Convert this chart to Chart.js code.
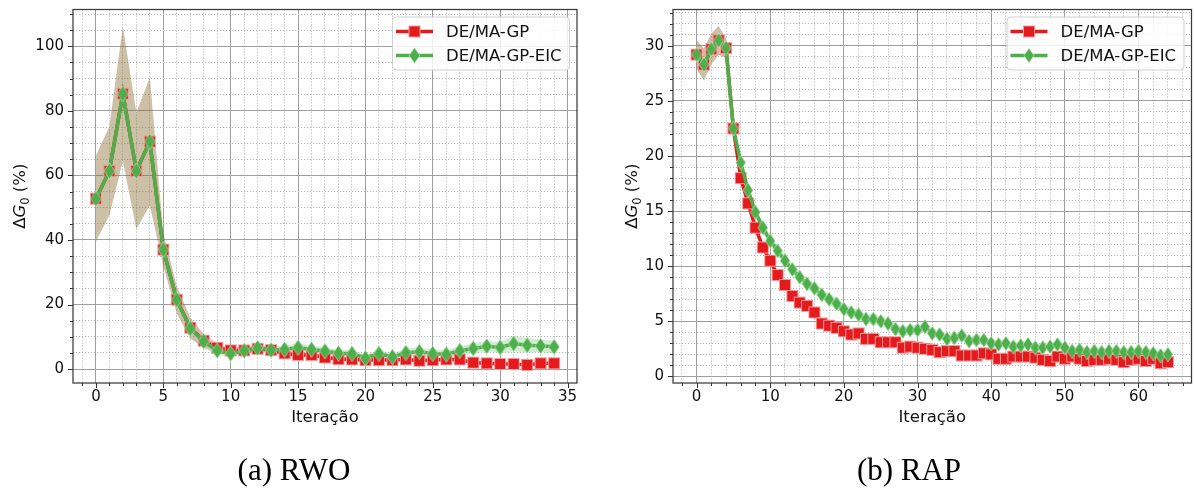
<!DOCTYPE html>
<html><head><meta charset="utf-8">
<script src="https://cdn.jsdelivr.net/npm/chart.js@4.4.0/dist/chart.umd.min.js"></script>
<style>
html,body{margin:0;padding:0;background:#fff;}
#wrap{position:relative;width:1195px;height:493px;overflow:hidden;background:#fff;}
canvas{position:absolute;top:0;}
#c1{left:0;}
#c2{left:600px;}
.cap{position:absolute;top:454px;font-family:"Liberation Serif","DejaVu Serif",serif;font-size:31px;color:#000;transform:translateX(-50%);white-space:nowrap;line-height:1;}
</style></head>
<body><div id="wrap">
<canvas id="c1" width="600" height="493"></canvas>
<canvas id="c2" width="601" height="493"></canvas>
<div class="cap" id="cap1" style="left:294px"></div>
<div class="cap" id="cap2" style="left:909px"></div>
</div>
<script>
// ---------------- DATA ----------------
const seriesNames = ['DE/MA-GP', 'DE/MA-GP-EIC'];
const xTitle = 'Iteração';
const captions = ['(a) RWO', '(b) RAP'];

const rwoIter = [0,1,2,3,4,5,6,7,8,9,10,11,12,13,14,15,16,17,18,19,20,21,22,23,24,25,26,27,28,29,30,31,32,33,34];
const rwoGP = [52.8,61.4,85.3,61.4,70.5,37.0,21.5,12.8,8.8,6.6,
  5.8,5.8,6.3,5.9,4.9,4.4,4.4,3.6,3.1,3.0,
  2.8,2.8,2.8,3.0,2.6,2.8,3.0,3.0,2.0,1.8,
  1.6,1.6,1.3,1.8,1.8];
const rwoGPStd = [13.3,13.7,20.8,18.0,19.8,5.0,4.2,3.2,2.1,1.4,
  1.1,1.0,1.0,0.9,0.8,0.7,0.7,0.6,0.6,0.6,
  0.6,0.5,0.5,0.5,0.5,0.5,0.5,0.5,0.5,0.5,
  0.5,0.5,0.5,0.5,0.5];
const rwoEIC = [52.8,61.4,85.3,61.4,70.5,37.0,21.5,12.6,8.6,5.7,
  4.8,5.7,6.6,5.9,6.1,6.7,6.1,5.6,4.9,4.8,
  3.4,4.8,3.8,5.1,5.4,4.8,4.6,5.7,6.4,7.1,
  6.7,7.9,7.4,7.2,6.9];
const rwoEICStd = [13.3,13.7,20.8,18.0,19.8,5.0,4.2,3.2,2.1,1.2,
  1.1,1.1,1.2,1.1,1.2,1.3,1.2,1.2,1.2,1.2,
  1.0,1.2,1.1,1.2,1.3,1.3,1.3,1.4,1.6,1.6,
  1.7,2.4,2.2,2.0,1.9];

const rapIter = [0,1,2,3,4,5,6,7,8,9,10,11,12,13,14,15,16,17,18,19,20,21,22,23,24,25,26,27,28,29,30,31,32,
  33,34,35,36,37,38,39,40,41,42,43,44,45,46,47,48,49,50,51,52,53,54,55,56,57,58,59,60,61,62,63,64];
const rapGP = [29.2,28.3,29.7,30.5,29.8,22.5,18.0,15.7,13.5,11.7,
  10.5,9.2,8.3,7.3,6.7,6.4,5.8,4.8,4.6,4.4,
  4.1,3.8,3.9,3.4,3.4,3.1,3.1,3.1,2.6,2.7,
  2.6,2.5,2.4,2.2,2.3,2.3,1.9,1.9,1.9,2.1,
  2.0,1.6,1.6,1.8,1.8,1.8,1.7,1.5,1.4,1.8,
  1.6,1.8,1.6,1.4,1.5,1.5,1.6,1.5,1.3,1.5,
  1.6,1.4,1.6,1.2,1.3];
const rapGPStd = [1.3,1.45,1.4,1.3,0.9,0.4,0.35,0.35,0.35,0.35,
  0.35,0.35,0.35,0.35,0.35,0.35,0.35,0.35,0.35,0.35,
  0.25,0.25,0.25,0.25,0.25,0.25,0.25,0.25,0.25,0.25,
  0.25,0.25,0.25,0.25,0.25,0.25,0.25,0.25,0.25,0.25,
  0.25,0.25,0.25,0.25,0.25,0.25,0.25,0.25,0.25,0.25,
  0.25,0.25,0.25,0.25,0.25,0.25,0.25,0.25,0.25,0.25,
  0.25,0.25,0.25,0.25,0.25];
const rapEIC = [29.2,28.3,29.7,30.5,29.8,22.5,19.4,16.9,14.9,13.5,
  12.3,11.4,10.5,9.7,9.0,8.4,8.0,7.4,7.0,6.6,
  6.1,5.8,5.6,5.2,5.2,5.0,4.8,4.3,4.1,4.2,
  4.2,4.5,3.9,3.8,3.4,3.5,3.7,3.2,3.3,3.3,
  3.0,2.9,3.0,2.7,2.8,2.9,2.6,2.6,2.7,2.9,
  2.6,2.3,2.4,2.2,2.3,2.2,2.3,2.3,2.2,2.2,
  2.3,2.2,2.1,1.9,2.0];
const rapEICStd = [1.3,1.45,1.4,1.3,0.9,0.4,0.5,0.5,0.5,0.5,
  0.5,0.5,0.5,0.5,0.5,0.5,0.5,0.5,0.5,0.5,
  0.5,0.45,0.45,0.45,0.45,0.45,0.45,0.45,0.45,0.45,
  0.45,0.4,0.4,0.4,0.4,0.4,0.4,0.4,0.4,0.4,
  0.4,0.35,0.35,0.35,0.35,0.35,0.35,0.35,0.35,0.35,
  0.35,0.35,0.35,0.35,0.35,0.35,0.35,0.35,0.35,0.35,
  0.35,0.35,0.35,0.35,0.35];

// ---------------- STYLE ----------------
const RED = '#e41a1c', GREEN = '#4daf4a';
const RED_BAND = 'rgba(228,26,28,0.25)', GREEN_BAND = 'rgba(77,175,74,0.25)';
const FONT = 'DejaVu Sans';
Chart.defaults.font.family = FONT;
Chart.defaults.color = '#000';

document.getElementById('cap1').textContent = captions[0];
document.getElementById('cap2').textContent = captions[1];

function squareMarker(side) {
  const c = document.createElement('canvas');
  c.width = side + 2; c.height = side + 2;
  const g = c.getContext('2d');
  g.fillStyle = RED; g.fillRect(1, 1, side, side);
  g.strokeStyle = 'rgba(255,255,255,0.55)'; g.lineWidth = 1;
  g.strokeRect(1.5, 1.5, side - 1, side - 1);
  return c;
}
function diamondMarker(w, h) {
  const c = document.createElement('canvas');
  c.width = w + 2; c.height = h + 2;
  const g = c.getContext('2d');
  const cx = (w + 2) / 2, cy = (h + 2) / 2;
  g.beginPath();
  g.moveTo(cx, 1); g.lineTo(w + 1, cy); g.lineTo(cx, h + 1); g.lineTo(1, cy); g.closePath();
  g.fillStyle = GREEN; g.fill();
  g.strokeStyle = 'rgba(255,255,255,0.45)'; g.lineWidth = 1; g.stroke();
  return c;
}

function isMult(v, step) {
  const r = v / step;
  return Math.abs(r - Math.round(r)) < 1e-6;
}

function pts(xs, ys) { return xs.map((x, i) => ({x: x, y: ys[i]})); }
function band(xs, ys, sd, sign) { return xs.map((x, i) => ({x: x, y: ys[i] + sign * sd[i]})); }

function axis(min, max, major, minor, isX, pad) {
  return {
    type: 'linear', min: min, max: max,
    afterBuildTicks: s => {
      const t = [];
      for (let k = Math.ceil(min / minor - 1e-9); k * minor <= max + 1e-9; k++) {
        t.push({value: +(k * minor).toFixed(6)});
      }
      s.ticks = t;
    },
    afterFit: s => {
      if (isX) { s.height = 47; s.paddingLeft = 0; s.paddingRight = 0; }
      else { s.width = 73; s.paddingTop = 0; s.paddingBottom = 0; }
    },
    ticks: {
      autoSkip: false, maxRotation: 0, padding: pad,
      font: {size: 15, family: FONT}, color: '#111',
      callback: v => isMult(v, major) ? String(Math.round(v)) : ''
    },
    grid: {
      drawTicks: false,
      color: c => (c.tick && isMult(c.tick.value, major)) ? '#9e9e9e' : '#b8b8b8',
      lineWidth: 1
    },
    border: {
      display: false,
      dash: c => (c.tick && isMult(c.tick.value, major)) ? [] : [1.2, 1.8]
    },
    title: isX ? {display: true, text: xTitle, font: {size: 16.5, family: FONT}, color: '#111', padding: {top: 0, bottom: 2}} : {display: false}
  };
}

const framePlugin = {
  id: 'frame',
  afterDatasetsDraw(chart, args, o) {
    const {ctx, chartArea: a} = chart;
    ctx.save();
    ctx.strokeStyle = '#333'; ctx.lineWidth = 1;
    [['x', o.xMajor], ['y', o.yMajor]].forEach(([id, mj]) => {
      const s = chart.scales[id];
      s.ticks.forEach(t => {
        const len = isMult(t.value, mj) ? 5 : 3;
        const p = Math.round(s.getPixelForValue(t.value)) + 0.5;
        ctx.beginPath();
        if (id === 'x') { ctx.moveTo(p, a.bottom); ctx.lineTo(p, a.bottom + len); }
        else { ctx.moveTo(a.left, p); ctx.lineTo(a.left - len, p); }
        ctx.stroke();
      });
    });
    ctx.strokeStyle = '#3a3a3a'; ctx.lineWidth = 1.25;
    ctx.strokeRect(a.left, a.top, a.right - a.left, a.bottom - a.top);
    ctx.restore();
  },
  afterDraw(chart, args, o) {
    const {ctx, chartArea: a} = chart;
    // y-axis title: ΔG0 (%) with italic G and subscript 0
    ctx.save();
    ctx.translate(o.yTitleX, (a.top + a.bottom) / 2);
    ctx.rotate(-Math.PI / 2);
    ctx.fillStyle = '#111';
    ctx.textBaseline = 'alphabetic';
    const segs = [
      {t: 'Δ', f: '16.5px "' + FONT + '"', dy: 0},
      {t: 'G', f: 'italic 16.5px "' + FONT + '"', dy: 0},
      {t: '0', f: '11.5px "' + FONT + '"', dy: 3.5},
      {t: ' (%)', f: '16.5px "' + FONT + '"', dy: 0}
    ];
    let total = 0;
    segs.forEach(s => { ctx.font = s.f; s.w = ctx.measureText(s.t).width; total += s.w; });
    let x = -total / 2;
    segs.forEach(s => { ctx.font = s.f; ctx.fillText(s.t, x, 6 + s.dy); x += s.w; });
    ctx.restore();

    // legend
    const bw = 177, bh = 53;
    const bx = a.right - 8 - bw, by = a.top + 7;
    ctx.save();
    ctx.beginPath();
    ctx.roundRect(bx + 0.5, by + 0.5, bw, bh, 4);
    ctx.fillStyle = 'rgba(255,255,255,0.82)'; ctx.fill();
    ctx.strokeStyle = '#d0d0d0'; ctx.lineWidth = 1; ctx.stroke();
    const rows = [
      {label: seriesNames[0], color: RED, mk: o.legendMarkers[0], dy: 15},
      {label: seriesNames[1], color: GREEN, mk: o.legendMarkers[1], dy: 39}
    ];
    rows.forEach(r => {
      const y = by + r.dy;
      ctx.strokeStyle = r.color; ctx.lineWidth = 3.5;
      ctx.beginPath(); ctx.moveTo(bx + 4, y); ctx.lineTo(bx + 41, y); ctx.stroke();
      ctx.drawImage(r.mk, bx + 22.5 - r.mk.width / 2, y - r.mk.height / 2);
      ctx.font = '16.5px "' + FONT + '"'; ctx.fillStyle = '#111'; ctx.textBaseline = 'middle';
      ctx.fillText(r.label, bx + 54, y + 1);
    });
    ctx.restore();
  }
};

function makeChart(id, xs, gp, gpSd, eic, eicSd, xr, yr, padRight, yTitleX, sq, dm) {
  const lineCommon = {borderWidth: 3.5, tension: 0, fill: false, pointRadius: 6, pointHoverRadius: 6};
  const bandCommon = {borderWidth: 0, pointRadius: 0, pointHoverRadius: 0, tension: 0};
  return new Chart(document.getElementById(id), {
    type: 'line',
    data: {
      datasets: [
        Object.assign({label: seriesNames[1], data: pts(xs, eic), borderColor: GREEN, backgroundColor: GREEN, pointStyle: dm}, lineCommon),
        Object.assign({label: seriesNames[0], data: pts(xs, gp), borderColor: RED, backgroundColor: RED, pointStyle: sq}, lineCommon),
        Object.assign({label: 'eic_hi', data: band(xs, eic, eicSd, 1), borderColor: GREEN_BAND, backgroundColor: GREEN_BAND, fill: '+1'}, bandCommon),
        Object.assign({label: 'eic_lo', data: band(xs, eic, eicSd, -1), borderColor: GREEN_BAND, fill: false}, bandCommon),
        Object.assign({label: 'gp_hi', data: band(xs, gp, gpSd, 1), borderColor: RED_BAND, backgroundColor: RED_BAND, fill: '+1'}, bandCommon),
        Object.assign({label: 'gp_lo', data: band(xs, gp, gpSd, -1), borderColor: RED_BAND, fill: false}, bandCommon)
      ]
    },
    options: {
      responsive: false, animation: false, events: [],
      layout: {padding: {left: 0, top: 9, right: padRight, bottom: 63}},
      plugins: {
        legend: {display: false}, tooltip: {enabled: false},
        frame: {xMajor: xr[2], yMajor: yr[2], yTitleX: yTitleX, legendMarkers: [sq, dm]}
      },
      scales: {
        x: axis(xr[0], xr[1], xr[2], xr[3], true, 5.5),
        y: axis(yr[0], yr[1], yr[2], yr[3], false, 9)
      }
    },
    plugins: [framePlugin]
  });
}

makeChart('c1', rwoIter, rwoGP, rwoGPStd, rwoEIC, rwoEICStd,
  [-1.7, 35.7, 5, 1], [-4.3, 111.4, 20, 5], 23, 19, squareMarker(12), diamondMarker(11, 16));
makeChart('c2', rapIter, rapGP, rapGPStd, rapEIC, rapEICStd,
  [-3.2, 67.2, 10, 2], [-0.6, 33.3, 5, 1], 9, 31, squareMarker(12), diamondMarker(10, 15));
</script>
</body></html>
